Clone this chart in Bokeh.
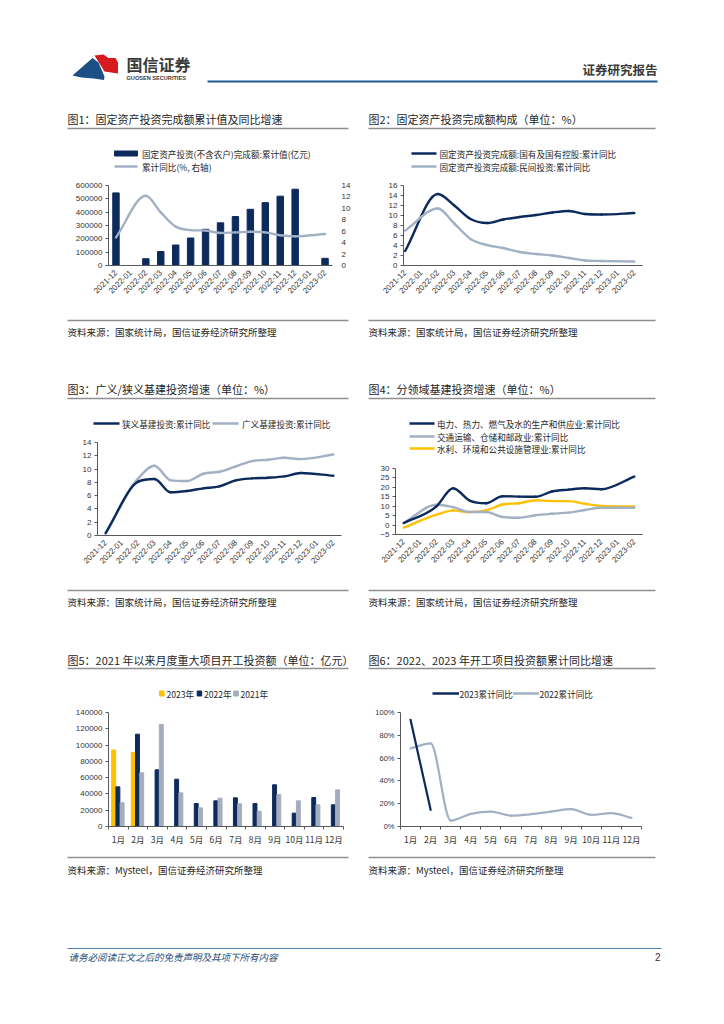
import math
from bokeh.plotting import figure
from bokeh.models import (Range1d, LinearAxis, FixedTicker, NumeralTickFormatter,
                          PrintfTickFormatter, Label, ColumnDataSource)
from bokeh.layouts import column, row
from bokeh.embed import file_html
from bokeh.resources import INLINE

# ---------------- data ----------------
months_cum = ["2021-12", "2022-01", "2022-02", "2022-03", "2022-04", "2022-05", "2022-06",
              "2022-07", "2022-08", "2022-09", "2022-10", "2022-11", "2022-12", "2023-01", "2023-02"]
fai_value = [544547, None, 50763, 104872, 153544, 205964, 271430, 319812, 367106,
             421412, 471459, 520043, 572138, None, 53577]
fai_yoy = [4.9, None, 12.2, 9.3, 6.8, 6.2, 6.1, 5.7, 5.8, 5.9, 5.8, 5.3, 5.1, None, 5.5]
soe_yoy = [2.9, None, 14.3, 12.0, 9.3, 8.5, 9.2, 9.7, 10.1, 10.6, 10.9, 10.3, 10.2, None, 10.5]
private_yoy = [7.0, None, 11.4, 8.4, 5.3, 4.1, 3.5, 2.7, 2.3, 2.0, 1.5, 1.0, 0.9, None, 0.8]
infra_narrow_yoy = [0.4, None, 8.1, 8.5, 6.5, 6.7, 7.1, 7.4, 8.3, 8.6, 8.7, 8.9, 9.4, None, 9.0]
infra_broad_yoy = [0.2, None, 8.6, 10.5, 8.3, 8.2, 9.3, 9.6, 10.4, 11.2, 11.4, 11.7, 11.5, None, 12.2]
power_yoy = [1.1, None, 10.0, 19.5, 13.0, 11.6, 15.3, 15.1, 15.0, 17.8, 18.8, 19.5, 19.0, None, 25.7]
transport_yoy = [1.1, None, 10.8, 9.5, 6.9, 6.9, 4.3, 3.9, 5.2, 6.0, 6.6, 8.0, 9.2, None, 9.2]
water_yoy = [-1.3, None, 5.5, 7.8, 6.9, 7.8, 10.9, 11.6, 13.2, 12.7, 12.7, 11.3, 10.2, None, 9.9]

months12 = ["1月", "2月", "3月", "4月", "5月", "6月", "7月", "8月", "9月", "10月", "11月", "12月"]
start_2023 = [94000, 91000, None, None, None, None, None, None, None, None, None, None]
start_2022 = [48700, 113400, 69600, 58100, 28200, 31500, 35200, 28200, 51200, 16400, 35600, 26600]
start_2021 = [29100, 65900, 125300, 41300, 22900, 34800, 27800, 18800, 39300, 31500, 26600, 45000]
start_yoy_2023 = [93.6, 14.6, None, None, None, None, None, None, None, None, None, None]
start_yoy_2022 = [68.5, 72.9, 5.2, 11.1, 13.1, 9.6, 10.8, 13.1, 15.2, 10.2, 11.7, 7.6]

# ---------------- style ----------------
CJK = "Noto Sans CJK SC"
LAT = "Liberation Sans"
NAVY = "#0C2A5B"
LIGHT = "#A2B0C4"
GRAY2021 = "#A3ADBD"
YELLOW = "#FFC000"
RULE = "#8F8F8F"
TXT = "#262626"
AXIS = "#595959"


def deco(x0, y0, x1, y1):
    p = figure(width=x1 - x0, height=y1 - y0, x_range=Range1d(x0, x1), y_range=Range1d(y1, y0),
               x_axis_type=None, y_axis_type=None, toolbar_location=None, output_backend="svg",
               min_border=0, title=None, frame_align=False)
    p.outline_line_color = None
    p.background_fill_color = "white"
    return p


def txt(p, x, y, s, size, color=TXT, font=CJK, align="left", style="normal"):
    p.add_layout(Label(x=x, y=y, text=s, text_font=font, text_font_size=size, text_color=color,
                       text_align=align, text_baseline="middle", text_font_style=style))


def hline(p, xa, xb, y, color=RULE, width=1.5):
    p.segment(x0=[xa], y0=[y], x1=[xb], y1=[y], line_color=color, line_width=width)


def chart_fig(box, frame, xr, yr):
    bx0, by0, bx1, by1 = box
    fx0, fy0, fx1, fy1 = frame
    p = figure(width=bx1 - bx0, height=by1 - by0, x_range=xr, y_range=yr,
               min_border_left=int(round(fx0 - bx0)), min_border_right=int(round(bx1 - fx1)),
               min_border_top=int(round(fy0 - by0)), min_border_bottom=int(round(by1 - fy1)),
               toolbar_location=None, output_backend="svg", title=None, frame_align=False)
    p.outline_line_color = None
    p.grid.visible = False
    return p


def style_axis(ax, size="8px", font=LAT, line=True):
    ax.axis_line_color = AXIS if line else None
    ax.axis_line_width = 1
    ax.major_tick_line_color = AXIS if line else None
    ax.major_tick_in = 0
    ax.major_tick_out = 3
    ax.minor_tick_line_color = None
    ax.major_label_text_font = font
    ax.major_label_text_font_size = size
    ax.major_label_text_color = "#333333"
    ax.major_label_standoff = 3


def smooth_line(p, xs, ys, color, width, **kw):
    """Monotone (Fritsch-Carlson) cubic through the data points, drawn as Bezier segments."""
    pts = [(x, y) for x, y in zip(xs, ys) if y is not None]
    n = len(pts)
    h = [pts[k + 1][0] - pts[k][0] for k in range(n - 1)]
    dl = [(pts[k + 1][1] - pts[k][1]) / h[k] for k in range(n - 1)]
    m = [0.0] * n
    m[0] = dl[0]
    m[-1] = dl[-1]
    for k in range(1, n - 1):
        if dl[k - 1] * dl[k] <= 0:
            m[k] = 0.0
        else:
            m[k] = (h[k] * dl[k - 1] + h[k - 1] * dl[k]) / (h[k - 1] + h[k])
    for k in range(n - 1):
        if dl[k] == 0:
            m[k] = m[k + 1] = 0.0
            continue
        a, b = m[k] / dl[k], m[k + 1] / dl[k]
        s = a * a + b * b
        if s > 9:
            t = 3.0 / math.sqrt(s)
            m[k] = t * a * dl[k]
            m[k + 1] = t * b * dl[k]
    d = dict(x0=[], y0=[], x1=[], y1=[], cx0=[], cy0=[], cx1=[], cy1=[])
    for k in range(n - 1):
        (xa, ya), (xb, yb) = pts[k], pts[k + 1]
        d["x0"].append(xa); d["y0"].append(ya)
        d["x1"].append(xb); d["y1"].append(yb)
        d["cx0"].append(xa + h[k] / 3.0); d["cy0"].append(ya + m[k] * h[k] / 3.0)
        d["cx1"].append(xb - h[k] / 3.0); d["cy1"].append(yb - m[k + 1] * h[k] / 3.0)
    p.bezier(x0="x0", y0="y0", x1="x1", y1="y1", cx0="cx0", cy0="cy0", cx1="cx1", cy1="cy1",
             source=ColumnDataSource(d), line_color=color, line_width=width, line_cap="round", **kw)


def month_axis(p, labels, rotate=True, size="8px", font=LAT, boundaries=False):
    ax = p.below[0]
    style_axis(ax, size=size, font=font)
    n = len(labels)
    if boundaries:
        ax.ticker = FixedTicker(ticks=list(range(n)), minor_ticks=[i - 0.5 for i in range(n + 1)])
        ax.major_tick_line_color = None
        ax.minor_tick_line_color = AXIS
        ax.minor_tick_in = 0
        ax.minor_tick_out = 3
    else:
        ax.ticker = FixedTicker(ticks=list(range(n)))
        ax.major_tick_line_color = None
    ax.major_label_overrides = {i: s for i, s in enumerate(labels)}
    if rotate:
        ax.major_label_orientation = math.pi / 4


idx15 = list(range(len(months_cum)))
idx12 = list(range(len(months12)))

L0, MID, R1 = 0, 362, 724

# ================= header =================
header = deco(L0, 0, R1, 105)
header.patch([72, 92, 98, 101, 104, 103.5, 93, 81], [75, 57.5, 62, 69, 76, 79.5, 78, 77],
             color="#1B4F86", line_color=None)
header.patch([94, 103, 108, 115, 117.5, 117.5, 104, 99], [55, 54, 57.5, 57.5, 62, 73, 71, 63],
             color="#D71920", line_color=None)
txt(header, 126, 63, "国信证券", "16px", color="#3A3A3A", style="bold")
txt(header, 126, 77.5, "GUOSEN SECURITIES", "5.6px", color="#3A3A3A", font=LAT, style="bold")
txt(header, 657, 69, "证券研究报告", "12.5px", color="#3A3A3A", align="right", style="bold")
hline(header, 207, 657, 81, color="#1F5B93", width=2.2)

# ================= row 1 =================
# ---- chart 1
top1 = deco(L0, 105, MID, 178)
txt(top1, 67, 118, "图1：固定资产投资完成额累计值及同比增速", "11px")
hline(top1, 67, 348, 128)
top1.quad(left=[114], right=[137], top=[150.5], bottom=[155.5], color=NAVY)
txt(top1, 141.5, 153, "固定资产投资(不含农户)完成额:累计值(亿元)", "8.6px")
hline(top1, 114, 137, 166, color=LIGHT, width=2.5)
txt(top1, 141.5, 166, "累计同比(%, 右轴)", "8.6px")

c1 = chart_fig((L0, 178, MID, 312), (108, 185, 332, 265), Range1d(-0.5, 14.5), Range1d(0, 600000))
c1.extra_y_ranges = {"yoy": Range1d(0, 14)}
bx = [i for i, v in zip(idx15, fai_value) if v is not None]
bv = [v for v in fai_value if v is not None]
c1.vbar(x=bx, top=bv, width=0.43, color=NAVY)
smooth_line(c1, idx15, fai_yoy, LIGHT, 2.4, y_range_name="yoy")
style_axis(c1.left[0])
c1.left[0].ticker = FixedTicker(ticks=list(range(0, 600001, 100000)))
c1.left[0].formatter = NumeralTickFormatter(format="0")
ra = LinearAxis(y_range_name="yoy", ticker=FixedTicker(ticks=list(range(0, 15, 2))))
style_axis(ra, line=False)
ra.major_label_standoff = 6
c1.add_layout(ra, "right")
month_axis(c1, months_cum)

bot1 = deco(L0, 312, MID, 345)
hline(bot1, 67, 348, 320)
txt(bot1, 67, 331, "资料来源：国家统计局，国信证券经济研究所整理", "9.5px")

# ---- chart 2
top2 = deco(MID, 105, R1, 178)
txt(top2, 368, 118, "图2：固定资产投资完成额构成（单位：%）", "11px")
hline(top2, 368, 655, 128)
hline(top2, 411, 436, 153, color=NAVY, width=2.5)
txt(top2, 439, 153, "固定资产投资完成额:国有及国有控股:累计同比", "8.6px")
hline(top2, 411, 436, 166, color=LIGHT, width=2.5)
txt(top2, 439, 166, "固定资产投资完成额:民间投资:累计同比", "8.6px")

c2 = chart_fig((MID, 178, R1, 312), (403, 185, 642, 265), Range1d(-0.1, 14.5), Range1d(0, 16))
smooth_line(c2, idx15, soe_yoy, NAVY, 2.4)
smooth_line(c2, idx15, private_yoy, LIGHT, 2.4)
style_axis(c2.left[0])
c2.left[0].ticker = FixedTicker(ticks=list(range(0, 17, 2)))
month_axis(c2, months_cum)

bot2 = deco(MID, 312, R1, 345)
hline(bot2, 368, 655, 320)
txt(bot2, 368, 331, "资料来源：国家统计局，国信证券经济研究所整理", "9.5px")

# ================= row 2 =================
# ---- chart 3
top3 = deco(L0, 345, MID, 435)
txt(top3, 67, 388, "图3：广义/狭义基建投资增速（单位：%）", "11px")
hline(top3, 67, 348, 398)
hline(top3, 93, 119, 423, color=NAVY, width=2.5)
txt(top3, 121.5, 423, "狭义基建投资:累计同比", "8.6px")
hline(top3, 212, 238, 423, color=LIGHT, width=2.5)
txt(top3, 241.5, 423, "广义基建投资:累计同比", "8.6px")

c3 = chart_fig((L0, 435, MID, 580), (97, 442, 341, 535), Range1d(-0.5, 14.5), Range1d(0, 14))
smooth_line(c3, idx15, infra_broad_yoy, LIGHT, 2.4)
smooth_line(c3, idx15, infra_narrow_yoy, NAVY, 2.4)
style_axis(c3.left[0])
c3.left[0].ticker = FixedTicker(ticks=list(range(0, 15, 2)))
month_axis(c3, months_cum)

bot3 = deco(L0, 580, MID, 615)
hline(bot3, 67, 348, 590)
txt(bot3, 67, 601, "资料来源：国家统计局，国信证券经济研究所整理", "9.5px")

# ---- chart 4
top4 = deco(MID, 345, R1, 460)
txt(top4, 368, 388, "图4：分领域基建投资增速（单位：%）", "11px")
hline(top4, 368, 655, 398)
hline(top4, 409, 434, 423, color=NAVY, width=2.5)
txt(top4, 436.5, 423, "电力、热力、燃气及水的生产和供应业:累计同比", "8.6px")
hline(top4, 409, 434, 436, color=LIGHT, width=2.5)
txt(top4, 436.5, 436, "交通运输、仓储和邮政业:累计同比", "8.6px")
hline(top4, 409, 434, 448, color=YELLOW, width=2.5)
txt(top4, 436.5, 448, "水利、环境和公共设施管理业:累计同比", "8.6px")

c4 = chart_fig((MID, 460, R1, 580), (395, 468, 642, 534), Range1d(-0.5, 14.5), Range1d(-5, 30))
smooth_line(c4, idx15, water_yoy, YELLOW, 2.4)
smooth_line(c4, idx15, transport_yoy, LIGHT, 2.4)
smooth_line(c4, idx15, power_yoy, NAVY, 2.4)
style_axis(c4.left[0])
c4.left[0].ticker = FixedTicker(ticks=list(range(-5, 31, 5)))
month_axis(c4, months_cum)

bot4 = deco(MID, 580, R1, 615)
hline(bot4, 368, 655, 590)
txt(bot4, 368, 601, "资料来源：国家统计局，国信证券经济研究所整理", "9.5px")

# ================= row 3 =================
# ---- chart 5
top5 = deco(L0, 615, MID, 705)
txt(top5, 67, 659, "图5：2021 年以来月度重大项目开工投资额（单位：亿元）", "11px")
hline(top5, 67, 348, 668)
top5.quad(left=[159], right=[163.5], top=[690.5], bottom=[695.5], color=YELLOW)
txt(top5, 166, 693, "2023年", "8.6px")
top5.quad(left=[196.7], right=[201.2], top=[690.5], bottom=[695.5], color=NAVY)
txt(top5, 203.5, 693, "2022年", "8.6px")
top5.quad(left=[233.3], right=[237.8], top=[690.5], bottom=[695.5], color=GRAY2021)
txt(top5, 240, 693, "2021年", "8.6px")

c5 = chart_fig((L0, 705, MID, 850), (108, 712, 343, 826), Range1d(-0.5, 11.5), Range1d(0, 140000))
for vals, off, col in ((start_2023, -0.235, YELLOW), (start_2022, -0.02, NAVY), (start_2021, 0.195, GRAY2021)):
    xs = [i + off for i, v in zip(idx12, vals) if v is not None]
    ys = [v for v in vals if v is not None]
    c5.vbar(x=xs, top=ys, width=0.2, color=col)
style_axis(c5.left[0])
c5.left[0].ticker = FixedTicker(ticks=list(range(0, 140001, 20000)))
c5.left[0].formatter = NumeralTickFormatter(format="0")
month_axis(c5, months12, rotate=False, size="8.5px", font=CJK, boundaries=True)

bot5 = deco(L0, 850, MID, 885)
hline(bot5, 67, 348, 857)
txt(bot5, 67, 869, "资料来源：Mysteel，国信证券经济研究所整理", "9.5px")

# ---- chart 6
top6 = deco(MID, 615, R1, 705)
txt(top6, 368, 659, "图6：2022、2023 年开工项目投资额累计同比增速", "11px")
hline(top6, 368, 655, 668)
hline(top6, 432, 458.5, 693, color=NAVY, width=2.5)
txt(top6, 459, 693, "2023累计同比", "8.6px")
hline(top6, 512.5, 538.5, 693, color=LIGHT, width=2.5)
txt(top6, 539, 693, "2022累计同比", "8.6px")

c6 = chart_fig((MID, 705, R1, 850), (400, 712, 641, 826), Range1d(-0.5, 11.5), Range1d(0, 100))
smooth_line(c6, idx12, start_yoy_2022, LIGHT, 2.2)
smooth_line(c6, idx12, start_yoy_2023, NAVY, 2.2)
style_axis(c6.left[0], size="7.5px")
c6.left[0].ticker = FixedTicker(ticks=list(range(0, 101, 20)))
c6.left[0].formatter = PrintfTickFormatter(format="%d%%")
month_axis(c6, months12, rotate=False, size="8.5px", font=CJK, boundaries=True)

bot6 = deco(MID, 850, R1, 885)
hline(bot6, 368, 655, 857)
txt(bot6, 368, 869, "资料来源：Mysteel，国信证券经济研究所整理", "9.5px")

# ================= footer =================
footer = deco(L0, 885, R1, 1020)
hline(footer, 67, 661, 948, color="#4F7FAE", width=1)
txt(footer, 68, 956, "请务必阅读正文之后的免责声明及其项下所有内容", "9.5px", color="#1F4E79", style="italic")
txt(footer, 660, 956, "2", "10px", color="#333333", font=LAT, align="right")

page = column(
    header,
    row(column(top1, c1, bot1), column(top2, c2, bot2)),
    row(column(top3, c3, bot3), column(top4, c4, bot4)),
    row(column(top5, c5, bot5), column(top6, c6, bot6)),
    footer,
)

open("out.html", "w").write(file_html(page, INLINE))
